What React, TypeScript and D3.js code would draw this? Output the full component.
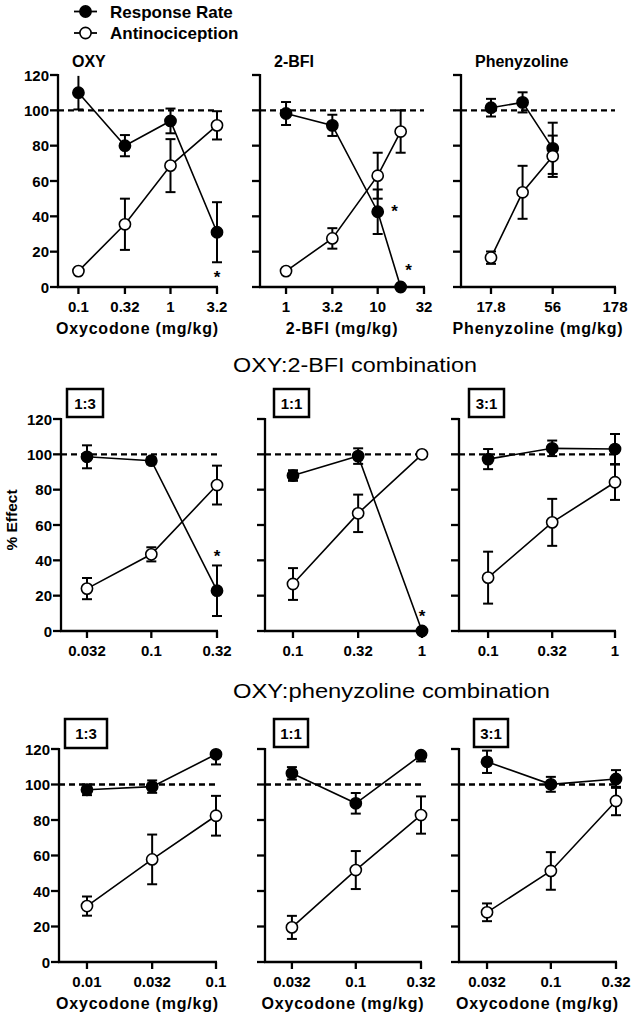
import React from 'react';
import * as d3 from 'd3';

// ---------- Data ----------
const yTicks = [0, 20, 40, 60, 80, 100, 120];

// Top row: single drugs
const oxyDoses = [0.1, 0.32, 1, 3.2];
const oxyTicks = [0.1, 0.32, 1, 3.2];
const oxyTickLabels = ['0.1', '0.32', '1', '3.2'];
const oxyRate = [110, 80, 94, 31];
const oxyRateSem = [9.5, 6, 7, 17];
const oxyAnti = [9, 35.5, 68.7, 91.5];
const oxyAntiSem = [1, 14.5, 15, 8];
const oxyStars = [{ dose: 3.2, value: 7.5 }];

const bfiDoses = [1, 3.2, 10, 17.8];
const bfiTicks = [1, 3.2, 10, 32];
const bfiTickLabels = ['1', '3.2', '10', '32'];
const bfiRate = [98.2, 91.5, 42.6, 0];
const bfiRateSem = [6.5, 6, 12.6, 0];
const bfiAnti = [9, 27.5, 63, 88];
const bfiAntiSem = [1, 5.8, 13, 12];
const bfiStars = [{ dose: 15.3, value: 44.5 }, { dose: 21.7, value: 11.5 }];

const phenDoses = [17.8, 32, 56];
const phenTicks = [17.8, 56, 178];
const phenTickLabels = ['17.8', '56', '178'];
const phenRate = [101.5, 104.5, 78.5];
const phenRateSem = [5, 5.7, 14.5];
const phenAnti = [16.6, 53.6, 74];
const phenAntiSem = [3.5, 15, 11.7];

// Middle row: OXY:2-BFI combination
const bfiMixDoses13 = [0.032, 0.1, 0.32];
const bfiMixTicks13 = ['0.032', '0.1', '0.32'];
const bfiMix13Rate = [98.6, 96.4, 22.8];
const bfiMix13RateSem = [6.5, 2, 14.3];
const bfiMix13Anti = [24, 43.4, 82.6];
const bfiMix13AntiSem = [6, 4, 11];
const bfiMix13Stars = [{ dose: 0.32, value: 44 }];

const bfiMixDoses11 = [0.1, 0.32, 1];
const bfiMixTicks11 = ['0.1', '0.32', '1'];
const bfiMix11Rate = [88, 99, 0];
const bfiMix11RateSem = [3, 4.4, 0];
const bfiMix11Anti = [26.6, 66.6, 100];
const bfiMix11AntiSem = [9, 10.6, 0];
const bfiMix11Stars = [{ dose: 1, value: 10 }];

const bfiMixDoses31 = [0.1, 0.32, 1];
const bfiMixTicks31 = ['0.1', '0.32', '1'];
const bfiMix31Rate = [97.3, 103.4, 103];
const bfiMix31RateSem = [5.7, 4.4, 8.5];
const bfiMix31Anti = [30.2, 61.5, 84.2];
const bfiMix31AntiSem = [14.7, 13.3, 10];

// Bottom row: OXY:phenyzoline combination
const phenMixDoses13 = [0.01, 0.032, 0.1];
const phenMixTicks13 = ['0.01', '0.032', '0.1'];
const phenMix13Rate = [97, 98.8, 117];
const phenMix13RateSem = [3, 3.5, 5.7];
const phenMix13Anti = [31.5, 57.8, 82.4];
const phenMix13AntiSem = [5.4, 14, 11.2];

const phenMixDoses11 = [0.032, 0.1, 0.32];
const phenMixTicks11 = ['0.032', '0.1', '0.32'];
const phenMix11Rate = [106.3, 89.4, 116.5];
const phenMix11RateSem = [3.5, 5.8, 3.5];
const phenMix11Anti = [19.5, 51.8, 82.8];
const phenMix11AntiSem = [6.5, 10.7, 10.5];

const phenMixDoses31 = [0.032, 0.1, 0.32];
const phenMixTicks31 = ['0.032', '0.1', '0.32'];
const phenMix31Rate = [112.8, 100.1, 103.1];
const phenMix31RateSem = [6.3, 4.2, 5];
const phenMix31Anti = [28, 51.3, 90.7];
const phenMix31AntiSem = [5, 10.6, 8];

const legendLabels = ['Response Rate', 'Antinociception'];

// ---------- Layout ----------
const FONT = '"Liberation Sans", Arial, Helvetica, sans-serif';
const Y_MAX = 120;

type Star = { dose: number; value: number };
type PanelSpec = {
  doses: number[];
  ticks: number[];
  tickLabels: string[];
  rate: number[];
  rateSem: number[];
  anti: number[];
  antiSem: number[];
  stars?: Star[];
  domain: [number, number];
  x0: number;
  x1: number;
  yt: number;
  yb: number;
  yLabels: boolean;
  title?: string;
  xTitle?: string;
  ratio?: string;
  box?: [number, number, number, number];
};

const TOP = { yt: 75, yb: 287 };
const MID = { yt: 419, yb: 631 };
const BOT = { yt: 749, yb: 962 };

const toNums = (a: string[]) => a.map(Number);

const panels: PanelSpec[] = [
  {
    doses: oxyDoses, ticks: oxyTicks, tickLabels: oxyTickLabels,
    rate: oxyRate, rateSem: oxyRateSem, anti: oxyAnti, antiSem: oxyAntiSem, stars: oxyStars,
    domain: [0.06, 3.2], x0: 58, x1: 217, ...TOP, yLabels: true,
    title: 'OXY', xTitle: 'Oxycodone (mg/kg)',
  },
  {
    doses: bfiDoses, ticks: bfiTicks, tickLabels: bfiTickLabels,
    rate: bfiRate, rateSem: bfiRateSem, anti: bfiAnti, antiSem: bfiAntiSem, stars: bfiStars,
    domain: [0.52, 32], x0: 260, x1: 424, ...TOP, yLabels: false,
    title: '2-BFI', xTitle: '2-BFI (mg/kg)',
  },
  {
    doses: phenDoses, ticks: phenTicks, tickLabels: phenTickLabels,
    rate: phenRate, rateSem: phenRateSem, anti: phenAnti, antiSem: phenAntiSem,
    domain: [10.2, 178], x0: 461, x1: 615, ...TOP, yLabels: false,
    title: 'Phenyzoline', xTitle: 'Phenyzoline (mg/kg)',
  },
  {
    doses: bfiMixDoses13, ticks: toNums(bfiMixTicks13), tickLabels: bfiMixTicks13,
    rate: bfiMix13Rate, rateSem: bfiMix13RateSem, anti: bfiMix13Anti, antiSem: bfiMix13AntiSem, stars: bfiMix13Stars,
    domain: [0.0202, 0.32], x0: 61, x1: 217, ...MID, yLabels: true,
    ratio: '1:3', box: [67, 389, 36, 28],
  },
  {
    doses: bfiMixDoses11, ticks: toNums(bfiMixTicks11), tickLabels: bfiMixTicks11,
    rate: bfiMix11Rate, rateSem: bfiMix11RateSem, anti: bfiMix11Anti, antiSem: bfiMix11AntiSem, stars: bfiMix11Stars,
    domain: [0.0607, 1], x0: 265, x1: 422, ...MID, yLabels: false,
    ratio: '1:1', box: [274, 389, 35, 28],
  },
  {
    doses: bfiMixDoses31, ticks: toNums(bfiMixTicks31), tickLabels: bfiMixTicks31,
    rate: bfiMix31Rate, rateSem: bfiMix31RateSem, anti: bfiMix31Anti, antiSem: bfiMix31AntiSem,
    domain: [0.059, 1], x0: 459, x1: 615, ...MID, yLabels: false,
    ratio: '3:1', box: [469, 389, 35, 28],
  },
  {
    doses: phenMixDoses13, ticks: toNums(phenMixTicks13), tickLabels: phenMixTicks13,
    rate: phenMix13Rate, rateSem: phenMix13RateSem, anti: phenMix13Anti, antiSem: phenMix13AntiSem,
    domain: [0.00607, 0.1], x0: 59, x1: 216, ...BOT, yLabels: true,
    xTitle: 'Oxycodone (mg/kg)', ratio: '1:3', box: [65, 719, 42, 29],
  },
  {
    doses: phenMixDoses11, ticks: toNums(phenMixTicks11), tickLabels: phenMixTicks11,
    rate: phenMix11Rate, rateSem: phenMix11RateSem, anti: phenMix11Anti, antiSem: phenMix11AntiSem,
    domain: [0.0198, 0.32], x0: 265, x1: 421, ...BOT, yLabels: false,
    xTitle: 'Oxycodone (mg/kg)', ratio: '1:1', box: [274, 719, 34, 28],
  },
  {
    doses: phenMixDoses31, ticks: toNums(phenMixTicks31), tickLabels: phenMixTicks31,
    rate: phenMix31Rate, rateSem: phenMix31RateSem, anti: phenMix31Anti, antiSem: phenMix31AntiSem,
    domain: [0.0194, 0.32], x0: 459, x1: 616, ...BOT, yLabels: false,
    xTitle: 'Oxycodone (mg/kg)', ratio: '3:1', box: [474, 719, 34, 28],
  },
];

function Series({ x, y, doses, means, sems, filled }: any) {
  const line = d3
    .line<number>()
    .x((_, i) => x(doses[i]))
    .y((d) => y(d));
  return (
    <g>
      <path d={line(means) || ''} fill="none" stroke="#000" strokeWidth={1.6} />
      {means.map((m: number, i: number) => {
        const cx = x(doses[i]);
        const s = sems[i];
        if (!s) return null;
        const clipped = m + s >= Y_MAX - 0.5;
        const top = y(Math.min(m + s, Y_MAX));
        const bot = y(Math.max(m - s, 0));
        return (
          <g key={'e' + i} stroke="#000" strokeWidth={2}>
            <line x1={cx} x2={cx} y1={top} y2={bot} />
            {!clipped && <line x1={cx - 5} x2={cx + 5} y1={top} y2={top} />}
            <line x1={cx - 5} x2={cx + 5} y1={bot} y2={bot} />
          </g>
        );
      })}
      {means.map((m: number, i: number) => (
        <circle
          key={'c' + i}
          cx={x(doses[i])}
          cy={y(m)}
          r={5.6}
          fill={filled ? '#000' : '#fff'}
          stroke="#000"
          strokeWidth={1.6}
        />
      ))}
    </g>
  );
}

function Panel({ p }: { p: PanelSpec }) {
  const x = d3.scaleLog().domain(p.domain).range([p.x0, p.x1]);
  const y = d3.scaleLinear().domain([0, Y_MAX]).range([p.yb, p.yt]);
  const cx = (p.x0 + p.x1) / 2;
  return (
    <g>
      {/* reference line at 100 */}
      <line
        x1={p.x0}
        x2={p.x1}
        y1={y(100)}
        y2={y(100)}
        stroke="#000"
        strokeWidth={2.3}
        strokeDasharray="6 4"
      />
      {/* axes */}
      <g stroke="#000" strokeWidth={2.3} fill="none">
        <line x1={p.x0} x2={p.x0} y1={y(Y_MAX) - 1} y2={y(0) + 1} />
        <line x1={p.x0 - 1} x2={p.x1 + 1} y1={y(0)} y2={y(0)} />
        {yTicks.map((t) => (
          <line key={'yt' + t} x1={p.x0 - 8} x2={p.x0} y1={y(t)} y2={y(t)} />
        ))}
        {p.ticks.map((t) => (
          <line key={'xt' + t} x1={x(t)} x2={x(t)} y1={y(0)} y2={y(0) + 7} />
        ))}
      </g>
      {p.yLabels &&
        yTicks.map((t) => (
          <text
            key={'yl' + t}
            x={p.x0 - 9}
            y={y(t) + 5.5}
            textAnchor="end"
            fontFamily={FONT}
            fontWeight="bold"
            fontSize={15}
          >
            {t}
          </text>
        ))}
      {p.ticks.map((t, i) => (
        <text
          key={'xl' + t}
          x={x(t)}
          y={y(0) + 25}
          textAnchor="middle"
          fontFamily={FONT}
          fontWeight="bold"
          fontSize={15}
        >
          {p.tickLabels[i]}
        </text>
      ))}
      {p.xTitle && (
        <text
          x={cx}
          y={y(0) + 47}
          textAnchor="middle"
          fontFamily={FONT}
          fontWeight="bold"
          fontSize={16}
          letterSpacing={0.8}
        >
          {p.xTitle}
        </text>
      )}
      {p.title && (
        <text
          x={p.x0 + 14}
          y={67}
          fontFamily={FONT}
          fontWeight="bold"
          fontSize={16}
        >
          {p.title}
        </text>
      )}
      {p.ratio && p.box && (
        <g>
          <rect
            x={p.box[0]}
            y={p.box[1]}
            width={p.box[2]}
            height={p.box[3]}
            fill="#fff"
            stroke="#000"
            strokeWidth={2.5}
          />
          <text
            x={p.box[0] + p.box[2] / 2}
            y={p.box[1] + p.box[3] / 2 + 5.5}
            textAnchor="middle"
            fontFamily={FONT}
            fontWeight="bold"
            fontSize={15}
          >
            {p.ratio}
          </text>
        </g>
      )}
      <Series x={x} y={y} doses={p.doses} means={p.rate} sems={p.rateSem} filled />
      <Series x={x} y={y} doses={p.doses} means={p.anti} sems={p.antiSem} filled={false} />
      {(p.stars || []).map((s, i) => (
        <text
          key={'s' + i}
          x={x(s.dose)}
          y={y(s.value) + 9}
          textAnchor="middle"
          fontFamily={FONT}
          fontWeight="bold"
          fontSize={17}
        >
          *
        </text>
      ))}
    </g>
  );
}

export default function App() {
  return (
    <svg
      width={636}
      height={1016}
      viewBox="0 0 636 1016"
      style={{ position: 'absolute', left: 0, top: 0, background: '#fff' }}
    >
      <rect width={636} height={1016} fill="#fff" />
      {/* legend */}
      {legendLabels.map((lab, i) => {
        const ly = i === 0 ? 11.5 : 33;
        return (
          <g key={lab}>
            <line x1={74} x2={97} y1={ly} y2={ly} stroke="#000" strokeWidth={1.8} />
            <circle
              cx={85.5}
              cy={ly}
              r={5.6}
              fill={i === 0 ? '#000' : '#fff'}
              stroke="#000"
              strokeWidth={1.6}
            />
            <text
              x={110}
              y={ly + 6}
              fontFamily={FONT}
              fontWeight="bold"
              fontSize={17}
            >
              {lab}
            </text>
          </g>
        );
      })}
      {/* section titles */}
      <text
        x={233}
        y={372}
        fontFamily={FONT}
        fontSize={20.5}
        textLength={244}
        lengthAdjust="spacingAndGlyphs"
      >
        OXY:2-BFI combination
      </text>
      <text
        x={233}
        y={698}
        fontFamily={FONT}
        fontSize={20.5}
        textLength={317}
        lengthAdjust="spacingAndGlyphs"
      >
        OXY:phenyzoline combination
      </text>
      {/* y axis title */}
      <text
        transform="translate(17,520) rotate(-90)"
        textAnchor="middle"
        fontFamily={FONT}
        fontWeight="bold"
        fontSize={15.5}
      >
        % Effect
      </text>
      {panels.map((p, i) => (
        <Panel key={i} p={p} />
      ))}
    </svg>
  );
}
